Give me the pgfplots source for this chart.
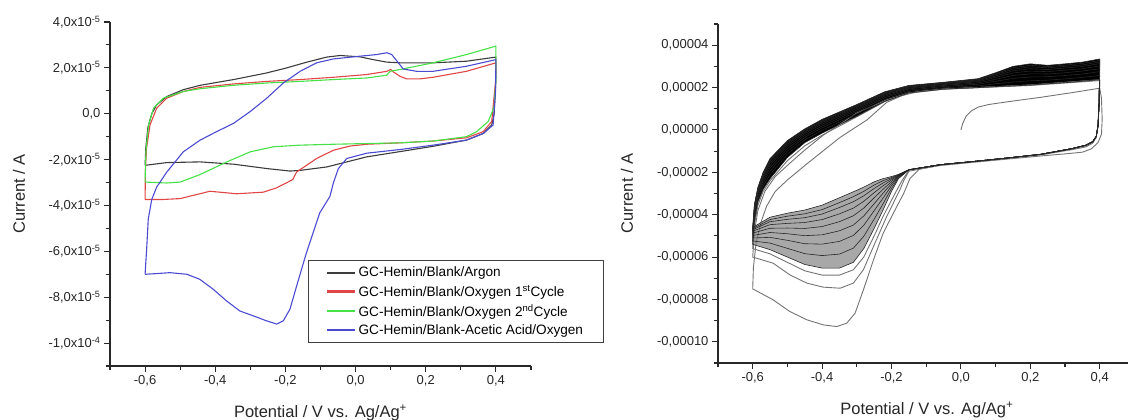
\documentclass[border=0pt]{standalone}
\usepackage{pgfplots}
\pgfplotsset{compat=1.18}
\usepackage{fontspec}
\setmainfont{Liberation Sans}
\definecolor{axiscol}{RGB}{40,40,40}
\definecolor{cvblack}{RGB}{60,60,60}
\definecolor{cvred}{RGB}{225,70,70}
\definecolor{cvgreen}{RGB}{70,225,70}
\definecolor{cvblue}{RGB}{75,75,210}
\definecolor{cvgray}{RGB}{115,115,115}
\pgfplotsset{
  cvaxis/.style={
    scale only axis, axis lines=left,
    axis line style={-, line width=1.1pt, color=axiscol},
    tick align=outside, major tick length=6pt, minor tick length=4pt,
    every tick/.style={line width=1.1pt, color=axiscol},
    tick label style={font=\fontsize{13}{15}\selectfont, color=black!85},
    label style={font=\fontsize{16.5}{19}\selectfont, color=black!85},
    xtick={-0.6,-0.4,-0.2,0,0.2,0.4},
    xticklabels={{-0,6},{-0,4},{-0,2},{0,0},{0,2},{0,4}},
    xlabel={Potential / V vs. Ag/Ag\textsuperscript{+}},
    ylabel={Current / A},
  },
  fan/.style={black!85, line width=0.6pt, no marks},
  early/.style={cvgray, line width=0.9pt, no marks},
}
\begin{document}
\begin{tikzpicture}
\path[use as bounding box] (0,0) rectangle (1128pt,-420pt);
% ---------------- left panel ----------------
\begin{axis}[cvaxis,
  at={(110pt,-366pt)}, anchor=south west,
  width=421pt, height=344pt,
  xmin=-0.7, xmax=0.5, ymin=-11, ymax=4,
  minor xtick={-0.7,-0.5,-0.3,-0.1,0.1,0.3,0.5},
  ytick={-10,-8,-6,-4,-2,0,2,4},
  yticklabels={{-1,0x10\textsuperscript{-4}},{-8,0x10\textsuperscript{-5}},{-6,0x10\textsuperscript{-5}},{-4,0x10\textsuperscript{-5}},{-2,0x10\textsuperscript{-5}},{0,0},{2,0x10\textsuperscript{-5}},{4,0x10\textsuperscript{-5}}},
  minor ytick={-11,-9,-7,-5,-3,-1,1,3},
  xlabel style={at={(axis description cs:0.5,-0.137)}, anchor=center},
  ylabel style={at={(axis description cs:-0.216,0.5)}, anchor=center},
  legend style={at={(axis description cs:0.470,0.308)}, anchor=north west,
    draw=black!75, line width=0.9pt, font=\fontsize{13.6}{15}\selectfont,
    inner xsep=18pt, inner ysep=4.5pt, row sep=2.6pt},
  legend cell align=left,
  legend image code/.code={\draw[mark repeat=2,mark phase=2,#1,line width=2.3pt] plot coordinates {(0pt,0pt) (14pt,0pt) (28pt,0pt)};},
]
\addplot[cvblack, line width=1.1pt] coordinates {
(-0.6,-2.25) (-0.598,-1.5) (-0.592,-0.6) (-0.581,0.0) (-0.567,0.39) (-0.538,0.75) (-0.491,1.05) (-0.443,1.24) (-0.348,1.49) (-0.253,1.78) (-0.196,2.0) (-0.139,2.25) (-0.082,2.47) (-0.044,2.54) (0.013,2.48) (0.05,2.36) (0.089,2.25) (0.127,2.22) (0.221,2.22) (0.316,2.29) (0.4,2.47)
(0.4,1.5) (0.395,0.0) (0.388,-0.49) (0.364,-0.86) (0.316,-1.15) (0.221,-1.42) (0.127,-1.65) (0.032,-1.88) (-0.025,-2.1) (-0.082,-2.32) (-0.158,-2.47) (-0.187,-2.5) (-0.253,-2.39) (-0.348,-2.2) (-0.443,-2.1) (-0.538,-2.13) (-0.6,-2.25)
};
\addlegendentry{GC-Hemin/Blank/Argon}
\addplot[cvred, line width=1.1pt] coordinates {
(-0.6,-3.74) (-0.599,-2.5) (-0.596,-1.52) (-0.586,-0.49) (-0.567,0.24) (-0.538,0.68) (-0.491,0.97) (-0.443,1.15) (-0.348,1.3) (-0.253,1.41) (-0.158,1.49) (-0.063,1.59) (0.032,1.71) (0.089,1.85) (0.1,1.93) (0.108,1.82) (0.127,1.63) (0.146,1.52) (0.183,1.52) (0.221,1.59) (0.316,1.85) (0.4,2.22)
(0.399,1.41) (0.388,-0.34) (0.364,-0.78) (0.316,-1.05) (0.221,-1.19) (0.127,-1.27) (0.032,-1.33) (-0.016,-1.41) (-0.063,-1.59) (-0.111,-1.95) (-0.168,-2.54) (-0.179,-2.87) (-0.225,-3.23) (-0.263,-3.42) (-0.339,-3.49) (-0.415,-3.38) (-0.5,-3.7) (-0.55,-3.74) (-0.6,-3.74)
};
\addlegendentry{GC-Hemin/Blank/Oxygen 1\textsuperscript{st}Cycle}
\addplot[cvgreen, line width=1.1pt] coordinates {
(-0.6,-2.98) (-0.599,-2.3) (-0.597,-1.52) (-0.59,-0.49) (-0.576,0.24) (-0.548,0.68) (-0.491,0.97) (-0.443,1.09) (-0.348,1.24) (-0.253,1.34) (-0.158,1.41) (-0.063,1.49) (0.032,1.56) (0.089,1.68) (0.098,1.85) (0.127,1.93) (0.221,2.22) (0.316,2.58) (0.4,2.95)
(0.4,1.5) (0.395,0.3) (0.378,-0.34) (0.345,-0.78) (0.316,-1.0) (0.221,-1.19) (0.127,-1.27) (0.032,-1.3) (-0.063,-1.33) (-0.158,-1.37) (-0.234,-1.44) (-0.3,-1.66) (-0.367,-2.1) (-0.443,-2.65) (-0.5,-2.98) (-0.538,-3.02) (-0.6,-2.98)
};
\addlegendentry{GC-Hemin/Blank/Oxygen 2\textsuperscript{nd}Cycle}
\addplot[cvblue, line width=1.1pt] coordinates {
(-0.6,-7.0) (-0.595,-5.77) (-0.591,-4.6) (-0.581,-3.74) (-0.567,-3.2) (-0.538,-2.54) (-0.491,-1.66) (-0.443,-1.15) (-0.396,-0.78) (-0.348,-0.42) (-0.3,0.1) (-0.253,0.68) (-0.206,1.34) (-0.158,1.85) (-0.111,2.22) (-0.063,2.39) (0.013,2.51) (0.06,2.58) (0.089,2.66) (0.103,2.58) (0.122,2.22) (0.136,1.95) (0.174,1.85) (0.221,1.85) (0.316,2.07) (0.4,2.36)
(0.399,1.0) (0.392,-0.49) (0.364,-0.86) (0.316,-1.15) (0.221,-1.37) (0.127,-1.56) (0.032,-1.72) (-0.025,-1.95) (-0.049,-2.39) (-0.063,-3.0) (-0.073,-3.6) (-0.102,-4.32) (-0.14,-6.06) (-0.168,-7.51) (-0.187,-8.52) (-0.206,-9.03) (-0.225,-9.17) (-0.254,-9.03) (-0.292,-8.81) (-0.33,-8.6) (-0.368,-8.16) (-0.406,-7.65) (-0.444,-7.22) (-0.481,-7.0) (-0.529,-6.93) (-0.567,-6.97) (-0.6,-7.0)
};
\addlegendentry{GC-Hemin/Blank-Acetic Acid/Oxygen}
\end{axis}
% ---------------- right panel ----------------
\begin{axis}[cvaxis,
  at={(718pt,-363pt)}, anchor=south west,
  width=409.5pt, height=339pt,
  xmin=-0.7, xmax=0.48, ymin=-11, ymax=5,
  minor xtick={-0.7,-0.5,-0.3,-0.1,0.1,0.3},
  ytick={-10,-8,-6,-4,-2,0,2,4},
  yticklabels={{-0,00010},{-0,00008},{-0,00006},{-0,00004},{-0,00002},{0,00000},{0,00002},{0,00004}},
  minor ytick={-11,-9,-7,-5,-3,-1,1,3,5},
  xlabel style={at={(axis description cs:0.51,-0.139)}, anchor=center},
  ylabel style={at={(axis description cs:-0.222,0.5)}, anchor=center},
]
% shaded envelopes of the many overlapping cycles
\addplot[fill=black!34, draw=none, forget plot] coordinates {
(-0.15,-1.88) (-0.18,-2.3) (-0.2,-2.9) (-0.225,-3.8) (-0.25,-4.65) (-0.28,-5.6) (-0.31,-6.25) (-0.35,-6.52) (-0.4,-6.52) (-0.45,-6.35) (-0.5,-6.0) (-0.55,-5.65) (-0.6,-5.4)
(-0.6,-4.6) (-0.55,-4.12) (-0.5,-3.93) (-0.45,-3.78) (-0.4,-3.55) (-0.35,-3.2) (-0.31,-2.92) (-0.28,-2.7) (-0.25,-2.45) (-0.225,-2.3) (-0.2,-2.2) (-0.18,-2.1)
};
\addplot[fill=black, draw=none, forget plot] coordinates {
(-0.6,-4.6) (-0.595,-3.5) (-0.585,-2.7) (-0.57,-2.0) (-0.55,-1.35) (-0.5,-0.5) (-0.45,0.05) (-0.4,0.5) (-0.3,1.2) (-0.22,1.8) (-0.15,2.1) (-0.05,2.25) (0.05,2.42) (0.1,2.7) (0.15,3.0) (0.2,3.12) (0.25,3.05) (0.3,3.12) (0.35,3.2) (0.4,3.35)
(0.4,2.38) (0.35,2.3) (0.3,2.23) (0.25,2.18) (0.2,2.12) (0.15,2.08) (0.1,2.05) (0.05,2.0) (-0.05,1.93) (-0.15,1.75) (-0.22,1.35) (-0.3,0.65) (-0.4,-0.15) (-0.45,-0.6) (-0.5,-1.3) (-0.55,-2.3) (-0.57,-2.8) (-0.585,-3.4) (-0.595,-4.3) (-0.6,-5.4)
};
% early cycles (grey)
\addplot[early] coordinates {
(0,0) (0.005,0.3) (0.015,0.65) (0.03,0.9) (0.05,1.08) (0.08,1.2) (0.13,1.32) (0.23,1.54) (0.32,1.76) (0.4,1.97)
(0.405,1.5) (0.407,0.5) (0.405,-0.2) (0.395,-0.6) (0.375,-0.9) (0.35,-1.05) (0.3,-1.13) (0.25,-1.2) (0.13,-1.38) (0.04,-1.52) (-0.06,-1.68) (-0.12,-1.85) (-0.147,-2.3) (-0.165,-3.0) (-0.185,-3.62) (-0.224,-4.87) (-0.252,-6.13) (-0.281,-7.55) (-0.305,-8.65) (-0.329,-9.12) (-0.358,-9.28) (-0.397,-9.2) (-0.444,-8.96) (-0.493,-8.57) (-0.541,-8.02) (-0.6,-7.5)
(-0.598,-6.5) (-0.59,-5.3) (-0.575,-4.3) (-0.56,-3.6) (-0.535,-2.9) (-0.5,-2.36) (-0.444,-1.6) (-0.348,-0.35) (-0.271,0.47) (-0.214,1.3) (-0.17,1.62) (-0.12,1.82) (-0.05,1.93) (0.05,2.0) (0.2,2.1) (0.4,2.33)
};
\addplot[early] coordinates {
(0.4,2.33) (0.398,1.2) (0.395,0.2) (0.39,-0.35) (0.38,-0.62) (0.36,-0.8) (0.32,-0.93) (0.23,-1.18) (0.13,-1.36) (0.04,-1.5) (-0.06,-1.66) (-0.15,-1.95) (-0.165,-2.4) (-0.176,-2.83) (-0.214,-4.09) (-0.252,-5.5) (-0.281,-6.6) (-0.31,-7.23) (-0.348,-7.47) (-0.397,-7.42) (-0.444,-7.23) (-0.493,-6.84) (-0.541,-6.29) (-0.6,-6.0)
(-0.595,-4.8) (-0.585,-3.8) (-0.565,-2.9) (-0.535,-2.2) (-0.493,-1.57) (-0.45,-0.95) (-0.397,-0.25) (-0.3,0.8) (-0.214,1.42) (-0.15,1.75) (-0.05,1.93) (0.05,2.0) (0.2,2.12) (0.4,2.36)
};
\addplot[early] coordinates {
(0.4,2.36) (0.398,1.2) (0.395,0.2) (0.39,-0.3) (0.38,-0.58) (0.36,-0.76) (0.32,-0.9) (0.23,-1.16) (0.13,-1.34) (0.04,-1.49) (-0.06,-1.65) (-0.15,-1.9) (-0.17,-2.4) (-0.19,-3.0) (-0.225,-4.1) (-0.25,-5.0) (-0.28,-6.0) (-0.31,-6.6) (-0.35,-6.85) (-0.4,-6.85) (-0.45,-6.65) (-0.5,-6.25) (-0.55,-5.85) (-0.6,-5.6)
(-0.595,-4.5) (-0.585,-3.55) (-0.57,-2.9) (-0.55,-2.4) (-0.5,-1.45) (-0.45,-0.75) (-0.4,-0.25) (-0.3,0.62) (-0.22,1.33) (-0.15,1.74) (-0.05,1.92) (0.05,2.0) (0.2,2.12) (0.4,2.37)
};
% later cycles (dense black)
\addplot[fan] coordinates {
(0.4,2.38) (0.398,1.2) (0.395,0.2) (0.39,-0.3) (0.38,-0.55) (0.36,-0.72) (0.32,-0.88) (0.23,-1.15) (0.13,-1.33) (0.04,-1.48) (-0.06,-1.64) (-0.15,-1.88)
(-0.18,-2.3) (-0.2,-2.9) (-0.225,-3.8) (-0.25,-4.65) (-0.28,-5.6) (-0.31,-6.25) (-0.35,-6.52) (-0.4,-6.52) (-0.45,-6.35) (-0.5,-6.0) (-0.55,-5.65) (-0.6,-5.4)
(-0.595,-4.3) (-0.585,-3.4) (-0.57,-2.8) (-0.55,-2.3) (-0.5,-1.3) (-0.45,-0.6) (-0.4,-0.15) (-0.3,0.65) (-0.22,1.35) (-0.15,1.75) (-0.05,1.93) (0.05,2.0) (0.1,2.05) (0.15,2.08) (0.2,2.12) (0.25,2.18) (0.3,2.23) (0.35,2.3) (0.4,2.38)
};
\addplot[fan] coordinates {
(0.4,2.57) (0.398,1.2) (0.395,0.2) (0.39,-0.3) (0.38,-0.55) (0.36,-0.72) (0.32,-0.88) (0.23,-1.15) (0.13,-1.33) (0.04,-1.48) (-0.06,-1.64) (-0.15,-1.88)
(-0.18,-2.26) (-0.2,-2.76) (-0.225,-3.5) (-0.25,-4.21) (-0.28,-5.02) (-0.31,-5.58) (-0.35,-5.86) (-0.4,-5.93) (-0.45,-5.84) (-0.5,-5.59) (-0.55,-5.34) (-0.6,-5.24)
(-0.595,-4.14) (-0.585,-3.26) (-0.57,-2.64) (-0.55,-2.11) (-0.5,-1.14) (-0.45,-0.47) (-0.4,-0.02) (-0.3,0.76) (-0.22,1.44) (-0.15,1.82) (-0.05,1.99) (0.05,2.08) (0.1,2.18) (0.15,2.26) (0.2,2.32) (0.25,2.35) (0.3,2.41) (0.35,2.48) (0.4,2.57)
};
\addplot[fan] coordinates {
(0.4,2.75) (0.398,1.2) (0.395,0.2) (0.39,-0.3) (0.38,-0.55) (0.36,-0.72) (0.32,-0.88) (0.23,-1.15) (0.13,-1.33) (0.04,-1.48) (-0.06,-1.64) (-0.15,-1.88)
(-0.18,-2.22) (-0.2,-2.63) (-0.225,-3.23) (-0.25,-3.81) (-0.28,-4.5) (-0.31,-4.98) (-0.35,-5.26) (-0.4,-5.39) (-0.45,-5.37) (-0.5,-5.21) (-0.55,-5.07) (-0.6,-5.1)
(-0.595,-4.0) (-0.585,-3.13) (-0.57,-2.5) (-0.55,-1.94) (-0.5,-1.0) (-0.45,-0.35) (-0.4,0.1) (-0.3,0.86) (-0.22,1.52) (-0.15,1.88) (-0.05,2.05) (0.05,2.16) (0.1,2.3) (0.15,2.43) (0.2,2.5) (0.25,2.51) (0.3,2.57) (0.35,2.64) (0.4,2.75)
};
\addplot[fan] coordinates {
(0.4,2.89) (0.398,1.2) (0.395,0.2) (0.39,-0.3) (0.38,-0.55) (0.36,-0.72) (0.32,-0.88) (0.23,-1.15) (0.13,-1.33) (0.04,-1.48) (-0.06,-1.64) (-0.15,-1.88)
(-0.18,-2.19) (-0.2,-2.53) (-0.225,-3.0) (-0.25,-3.48) (-0.28,-4.06) (-0.31,-4.49) (-0.35,-4.76) (-0.4,-4.95) (-0.45,-4.99) (-0.5,-4.9) (-0.55,-4.84) (-0.6,-4.98)
(-0.595,-3.88) (-0.585,-3.03) (-0.57,-2.38) (-0.55,-1.8) (-0.5,-0.88) (-0.45,-0.26) (-0.4,0.19) (-0.3,0.94) (-0.22,1.59) (-0.15,1.94) (-0.05,2.1) (0.05,2.22) (0.1,2.39) (0.15,2.57) (0.2,2.65) (0.25,2.64) (0.3,2.7) (0.35,2.78) (0.4,2.89)
};
\addplot[fan] coordinates {
(0.4,3.02) (0.398,1.2) (0.395,0.2) (0.39,-0.3) (0.38,-0.55) (0.36,-0.72) (0.32,-0.88) (0.23,-1.15) (0.13,-1.33) (0.04,-1.48) (-0.06,-1.64) (-0.15,-1.88)
(-0.18,-2.17) (-0.2,-2.44) (-0.225,-2.81) (-0.25,-3.2) (-0.28,-3.69) (-0.31,-4.05) (-0.35,-4.33) (-0.4,-4.56) (-0.45,-4.65) (-0.5,-4.63) (-0.55,-4.64) (-0.6,-4.87)
(-0.595,-3.77) (-0.585,-2.94) (-0.57,-2.27) (-0.55,-1.67) (-0.5,-0.77) (-0.45,-0.17) (-0.4,0.28) (-0.3,1.01) (-0.22,1.65) (-0.15,1.98) (-0.05,2.14) (0.05,2.28) (0.1,2.48) (0.15,2.69) (0.2,2.78) (0.25,2.75) (0.3,2.82) (0.35,2.89) (0.4,3.02)
};
\addplot[fan] coordinates {
(0.4,3.13) (0.398,1.2) (0.395,0.2) (0.39,-0.3) (0.38,-0.55) (0.36,-0.72) (0.32,-0.88) (0.23,-1.15) (0.13,-1.33) (0.04,-1.48) (-0.06,-1.64) (-0.15,-1.88)
(-0.18,-2.15) (-0.2,-2.36) (-0.225,-2.64) (-0.25,-2.96) (-0.28,-3.37) (-0.31,-3.69) (-0.35,-3.96) (-0.4,-4.23) (-0.45,-4.37) (-0.5,-4.41) (-0.55,-4.47) (-0.6,-4.78)
(-0.595,-3.68) (-0.585,-2.86) (-0.57,-2.18) (-0.55,-1.57) (-0.5,-0.68) (-0.45,-0.1) (-0.4,0.35) (-0.3,1.07) (-0.22,1.7) (-0.15,2.02) (-0.05,2.18) (0.05,2.32) (0.1,2.55) (0.15,2.79) (0.2,2.89) (0.25,2.85) (0.3,2.92) (0.35,2.99) (0.4,3.13)
};
\addplot[fan] coordinates {
(0.4,3.21) (0.398,1.2) (0.395,0.2) (0.39,-0.3) (0.38,-0.55) (0.36,-0.72) (0.32,-0.88) (0.23,-1.15) (0.13,-1.33) (0.04,-1.48) (-0.06,-1.64) (-0.15,-1.88)
(-0.18,-2.13) (-0.2,-2.3) (-0.225,-2.51) (-0.25,-2.76) (-0.28,-3.11) (-0.31,-3.39) (-0.35,-3.66) (-0.4,-3.97) (-0.45,-4.14) (-0.5,-4.22) (-0.55,-4.33) (-0.6,-4.71)
(-0.595,-3.61) (-0.585,-2.8) (-0.57,-2.11) (-0.55,-1.48) (-0.5,-0.61) (-0.45,-0.04) (-0.4,0.41) (-0.3,1.12) (-0.22,1.74) (-0.15,2.05) (-0.05,2.21) (0.05,2.36) (0.1,2.61) (0.15,2.87) (0.2,2.98) (0.25,2.93) (0.3,3.0) (0.35,3.07) (0.4,3.21)
};
\addplot[fan] coordinates {
(0.4,3.28) (0.398,1.2) (0.395,0.2) (0.39,-0.3) (0.38,-0.55) (0.36,-0.72) (0.32,-0.88) (0.23,-1.15) (0.13,-1.33) (0.04,-1.48) (-0.06,-1.64) (-0.15,-1.88)
(-0.18,-2.11) (-0.2,-2.25) (-0.225,-2.4) (-0.25,-2.6) (-0.28,-2.9) (-0.31,-3.15) (-0.35,-3.43) (-0.4,-3.76) (-0.45,-3.96) (-0.5,-4.07) (-0.55,-4.23) (-0.6,-4.66)
(-0.595,-3.56) (-0.585,-2.75) (-0.57,-2.06) (-0.55,-1.42) (-0.5,-0.56) (-0.45,0.0) (-0.4,0.45) (-0.3,1.16) (-0.22,1.77) (-0.15,2.08) (-0.05,2.23) (0.05,2.39) (0.1,2.65) (0.15,2.94) (0.2,3.05) (0.25,2.99) (0.3,3.06) (0.35,3.14) (0.4,3.28)
};
\addplot[fan] coordinates {
(0.4,3.35) (0.398,1.2) (0.395,0.2) (0.39,-0.3) (0.38,-0.55) (0.36,-0.72) (0.32,-0.88) (0.23,-1.15) (0.13,-1.33) (0.04,-1.48) (-0.06,-1.64) (-0.15,-1.88)
(-0.18,-2.1) (-0.2,-2.2) (-0.225,-2.3) (-0.25,-2.45) (-0.28,-2.7) (-0.31,-2.92) (-0.35,-3.2) (-0.4,-3.55) (-0.45,-3.78) (-0.5,-3.93) (-0.55,-4.12) (-0.6,-4.6)
(-0.595,-3.5) (-0.585,-2.7) (-0.57,-2.0) (-0.55,-1.35) (-0.5,-0.5) (-0.45,0.05) (-0.4,0.5) (-0.3,1.2) (-0.22,1.8) (-0.15,2.1) (-0.05,2.25) (0.05,2.42) (0.1,2.7) (0.15,3.0) (0.2,3.12) (0.25,3.05) (0.3,3.12) (0.35,3.2) (0.4,3.35)
};
\end{axis}
\end{tikzpicture}
\end{document}
